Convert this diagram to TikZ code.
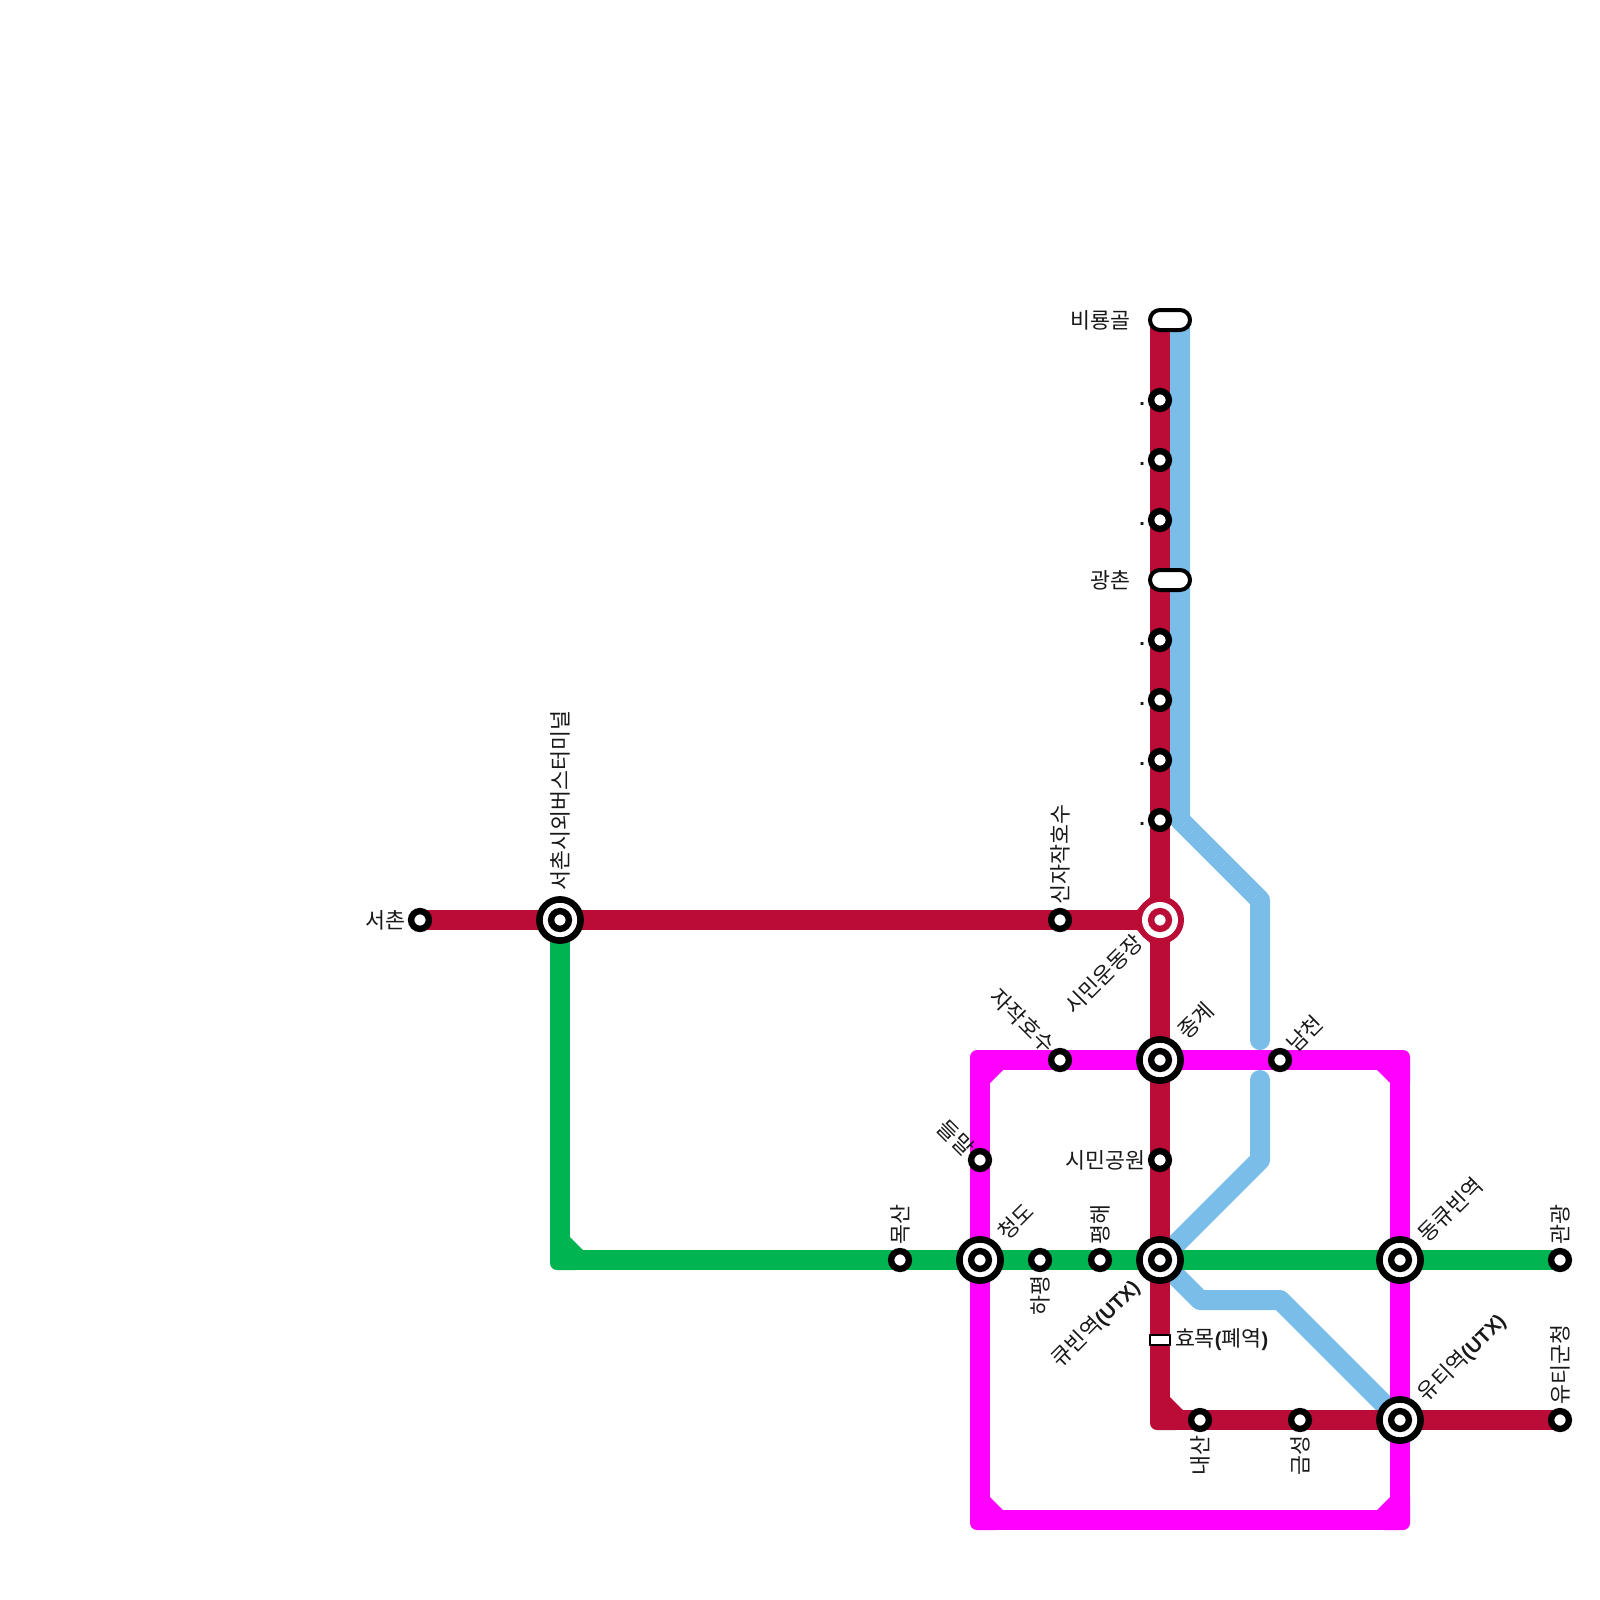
\documentclass[tikz,border=0pt]{standalone}
\usepackage{fontspec}
\setmainfont{Liberation Sans}
\newfontfamily\krfont{Noto Sans CJK KR}
\usepackage{tikz}
\usetikzlibrary{calc}
\definecolor{lnred}{HTML}{BA0C37}
\definecolor{lngreen}{HTML}{00B451}
\definecolor{lnmag}{HTML}{FF00FF}
\definecolor{lnblue}{HTML}{7ABDE9}
\newcommand{\bendpatch}[4]{\fill[#1,shift={(#2)},xscale=#3,yscale=#4] (-10,23) [rounded corners=3.5pt] -- (-10,-10) -- (23,-10) [sharp corners] -- (23,10) -- (10,23) -- cycle;}
\newcommand{\latin}[1]{{\fontsize{10pt}{12pt}\bfseries\rmfamily #1}}
\begin{document}
\begin{tikzpicture}[x=0.5pt,y=-0.5pt,
  track/.style={line width=10pt, line join=bevel},
  bluetrack/.style={lnblue, line width=10pt, line join=round},
  sta/.style={circle, draw=black, fill=white, line width=3.2pt, minimum size=8.9pt, inner sep=0pt, outer sep=0pt},
  hub/.style={circle, draw=black, fill=white, line width=3.3pt, minimum size=20.6pt, inner sep=0pt, outer sep=0pt},
  pill/.style={draw=black, fill=white, line width=2pt, rounded corners=5pt, minimum width=20pt, minimum height=10pt, inner sep=0pt, outer sep=0pt},
  shut/.style={draw=black, fill=white, line width=1pt, minimum width=10pt, minimum height=5pt, inner sep=0pt, outer sep=0pt},
  lbl/.style={font=\fontsize{10.85pt}{12pt}\krfont, text=black!90, inner sep=0pt, outer sep=0pt}]
  \useasboundingbox (0,0) rectangle (1600,1600);
  % track corners and ends
  \coordinate (gBend) at (560,1260);
  \coordinate (rBend) at (1160,1420);
  \coordinate (mTL) at (980,1060);
  \coordinate (mTR) at (1400,1060);
  \coordinate (mBR) at (1400,1520);
  \coordinate (mBL) at (980,1520);
  \coordinate (rTop) at (1160,320);
  \coordinate (bTop) at (1180,320);
  \coordinate (b1) at (1180,820);
  \coordinate (b2) at (1260,900);
  \coordinate (b3) at (1260,1040);
  \coordinate (b4) at (1260,1080);
  \coordinate (b5) at (1260,1160);
  \coordinate (b6) at (1200,1300);
  \coordinate (b7) at (1280,1300);
  % stations
  \coordinate (Seochon) at (420,920);
  \coordinate (Terminal) at (560,920);
  \coordinate (Stadium) at (1160,920);
  \coordinate (Jonggye) at (1160,1060);
  \coordinate (Kyubin) at (1160,1260);
  \coordinate (Cheongdo) at (980,1260);
  \coordinate (DongKyubin) at (1400,1260);
  \coordinate (Uti) at (1400,1420);
  \coordinate (Gwangwang) at (1560,1260);
  \coordinate (UtiEnd) at (1560,1420);
  % blue first, everything else sits on it
  \draw[bluetrack] (bTop) -- (b1) -- (b2) -- (b3);
  \draw[bluetrack] (b4) -- (b5) -- (Kyubin) -- (b6) -- (b7) -- (Uti);
  \foreach \c in {b3,b4} \fill[lnblue] (\c) circle (5pt);
  \draw[track,lngreen] (Terminal) -- (gBend) -- (Gwangwang);
  \bendpatch{lngreen}{gBend}{1}{-1}
  \draw[track,lnmag] (mTL) -- (mTR) -- (mBR) -- (mBL) -- cycle;
  \bendpatch{lnmag}{mTL}{1}{1}
  \bendpatch{lnmag}{mTR}{-1}{1}
  \bendpatch{lnmag}{mBR}{-1}{-1}
  \bendpatch{lnmag}{mBL}{1}{-1}
  \draw[track,lnred] (rTop) -- (rBend) -- (UtiEnd);
  \draw[track,lnred] (Seochon) -- (Stadium);
  \bendpatch{lnred}{rBend}{1}{-1}
  \bendpatch{lnred}{Stadium}{-1}{1}
  \bendpatch{lnred}{Stadium}{-1}{-1}
  % pills and the closed stop
  \node[pill] (Biryong) at (1170,320) {};
  \node[pill] (Gwangchon) at (1170,580) {};
  \node[shut] (Hyomok) at (1160,1340) {};
  % small stops
  \foreach \n/\p in {s1/{1160,400},s2/{1160,460},s3/{1160,520},s4/{1160,640},s5/{1160,700},s6/{1160,760},s7/{1160,820},
      Sinjajak/{1060,920},Jajak/{1060,1060},Namcheon/{1280,1060},Deulmal/{980,1160},Park/{1160,1160},
      Moksan/{900,1260},Hapyeong/{1040,1260},Pyeonghae/{1100,1260},Naesan/{1200,1420},Geumseong/{1300,1420}}
    \node[sta] (\n) at (\p) {};
  \node[sta] (SeochonS) at (Seochon) {};
  \node[sta] (GwangS) at (Gwangwang) {};
  \node[sta] (UtiEndS) at (UtiEnd) {};
  % interchanges
  \foreach \n/\p in {hTerminal/Terminal,hJonggye/Jonggye,hKyubin/Kyubin,hCheongdo/Cheongdo,hDong/DongKyubin,hUti/Uti}{
    \node[hub] (\n) at (\p) {};
    \node[sta] (\n i) at (\p) {};
  }
  \fill[lnred] (Stadium) circle (12pt);
  \node[circle, fill=white, minimum size=18pt, inner sep=0pt, outer sep=0pt] (hStadium) at (Stadium) {};
  \node[sta, draw=lnred] (hStadiumi) at (Stadium) {};
  % labels
  \node[lbl,anchor=east] (tBiryong) at (1130,320) {비룡골};
  \node[lbl,anchor=east] (tGwangchon) at (1130,580) {광촌};
  \foreach \n/\y in {d1/405,d2/465,d3/525,d4/645,d5/705,d6/765,d7/825}
    \node[lbl,anchor=base east,font=\bfseries] (\n) at (1145,\y) {.};
  \node[lbl,anchor=east] (tSeochon) at (405,920) {서촌};
  \node[lbl,anchor=west,rotate=90] (tTerminal) at (560,890) {서촌시외버스터미널};
  \node[lbl,anchor=west,rotate=90] (tSinjajak) at (1060,904) {신자작호수};
  \node[lbl,anchor=east,rotate=45] (tStadium) at (1139,939) {시민운동장};
  \node[lbl,anchor=east,rotate=-45] (tJajak) at (1051,1049) {자작호수};
  \node[lbl,anchor=west,rotate=45] (tJonggye) at (1182,1035) {종계};
  \node[lbl,anchor=west,rotate=45] (tNamcheon) at (1291,1048) {남천};
  \node[lbl,anchor=east,rotate=-45] (tDeulmal) at (970,1152) {들말};
  \node[lbl,anchor=east] (tPark) at (1145,1160) {시민공원};
  \node[lbl,anchor=west,rotate=90] (tMoksan) at (900,1244) {목산};
  \node[lbl,anchor=west,rotate=45] (tCheongdo) at (1002,1236) {청도};
  \node[lbl,anchor=east,rotate=90] (tHapyeong) at (1040,1276) {하평};
  \node[lbl,anchor=west,rotate=90] (tPyeonghae) at (1100,1244) {평해};
  \node[lbl,anchor=east,rotate=45] (tKyubin) at (1136,1284) {큐빈역\latin{(UTX)}};
  \node[lbl,anchor=west] (tHyomok) at (1175,1340) {효목\latin{(}폐역\latin{)}};
  \node[lbl,anchor=east,rotate=90] (tNaesan) at (1200,1436) {내산};
  \node[lbl,anchor=east,rotate=90] (tGeumseong) at (1300,1436) {금성};
  \node[lbl,anchor=west,rotate=45] (tDong) at (1422,1238) {동큐빈역};
  \node[lbl,anchor=west,rotate=45] (tUti) at (1422,1398) {유티역\latin{(UTX)}};
  \node[lbl,anchor=west,rotate=90] (tGwangwang) at (1560,1244) {관광};
  \node[lbl,anchor=west,rotate=90] (tUtiEnd) at (1560,1404) {유티군청};
\end{tikzpicture}
\end{document}
